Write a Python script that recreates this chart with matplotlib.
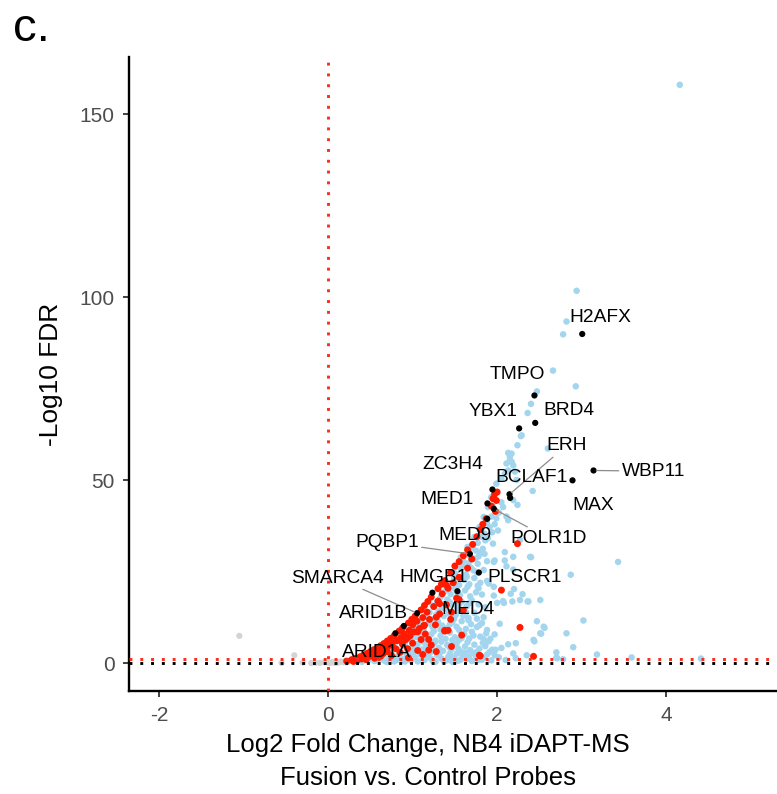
import matplotlib
matplotlib.use("Agg")
import matplotlib.pyplot as plt

plt.rcParams['font.family'] = ['Liberation Sans', 'DejaVu Sans']

# ---------------- data ----------------
gray_pts = [(-1.05, 7.5), (-0.40, 2.2), (-0.55, 0.1), (-0.30, 0.2), (-0.15, 0.15),
            (-0.05, 0.3), (0.0, 0.2), (0.05, 0.35), (0.10, 0.3), (0.15, 0.5),
            (0.20, 0.6), (0.25, 0.5), (0.12, 0.2), (0.08, 0.1), (0.18, 0.3),
            (-0.10, 0.1), (0.28, 0.7), (0.02, 0.05), (-0.20, 0.05), (0.22, 0.25)]

blue_pts = [
    (4.16, 158.1), (2.94, 101.8), (2.82, 93.4), (2.78, 89.9), (2.66, 80.0), (2.93, 75.7),
    (2.47, 74.3), (2.40, 70.9), (2.36, 68.4), (2.29, 62.3), (2.60, 58.7), (2.28, 62.1),
    (2.24, 59.6), (2.17, 57.3), (2.15, 55.5), (2.11, 54.6), (2.19, 54.1), (2.13, 52.7),
    (2.09, 51.8), (2.05, 50.5), (1.99, 49.1), (2.42, 47.1), (1.93, 45.4), (1.89, 42.7),
    (1.84, 40.0), (1.79, 37.2), (1.73, 34.5), (1.65, 31.8), (1.57, 29.0), (1.50, 26.3),
    (2.07, 42.7), (2.13, 39.1), (2.01, 36.3), (1.95, 32.7), (1.85, 29.9), (2.09, 30.4),
    (1.77, 27.2), (2.40, 29.0), (1.97, 28.1), (3.43, 27.7), (2.39, 29.1), (2.87, 24.2),
    (2.30, 18.9), (2.36, 16.9), (2.47, 11.5), (3.02, 11.7), (2.56, 9.7), (2.52, 8.1),
    (2.44, 6.0), (2.90, 4.4), (2.70, 3.0), (3.18, 2.4), (2.35, 2.2), (2.70, 1.5),
    (2.78, 1.1), (3.59, 1.6), (4.41, 1.3),
    (1.96, 27.7), (2.09, 28.1), (2.11, 26.5), (2.19, 25.6), (1.88, 22.5), (1.90, 21.8),
    (2.20, 20.3), (2.16, 19.0), (1.96, 18.5), (2.00, 16.5), (2.07, 17.0), (2.08, 16.5),
    (2.18, 16.9), (2.37, 16.9), (2.03, 10.8), (2.51, 8.2), (1.84, 6.6), (1.92, 6.7),
    (1.90, 6.0), (2.22, 5.5), (2.13, 5.2), (1.94, 3.7), (1.98, 3.7), (1.97, 2.2), (2.71, 1.4),
    (2.13, 57.5), (2.15, 56.4), (2.17, 55.1), (2.21, 52.4), (2.23, 50.1), (2.19, 44.6),
    (2.24, 43.3), (2.11, 40.1), (2.27, 33.7), (2.19, 29.1), (1.96, 20.9), (2.27, 17.3),
    (2.51, 17.3), (2.55, 10.0), (2.82, 8.2), (2.43, 6.4), (1.88, 9.1), (2.19, 2.7), (1.96, 3.6),
    (0.40, 0.4), (0.48, 0.9), (0.55, 0.6), (0.60, 1.3), (0.66, 0.8), (0.72, 1.6), (0.78, 0.5),
    (0.82, 1.9), (0.88, 1.1), (0.93, 2.3), (0.98, 0.7), (1.03, 1.6), (1.09, 2.5), (1.14, 0.9),
    (1.19, 1.8), (1.24, 0.6), (1.29, 2.2), (1.34, 1.3), (1.40, 0.8), (1.44, 2.6), (1.49, 1.5),
    (1.54, 0.7), (1.59, 2.1), (1.64, 1.2), (1.70, 0.6), (1.75, 1.8), (1.82, 1.0), (1.88, 2.4),
    (1.93, 0.8), (2.02, 1.6), (2.10, 0.9), (2.22, 1.4),
    (0.70, 3.3), (0.77, 4.1), (0.84, 3.5), (0.89, 4.8), (0.95, 3.1), (1.00, 4.4), (1.06, 5.3),
    (1.11, 3.8), (1.16, 4.9), (1.21, 3.0), (1.26, 5.6), (1.31, 4.2), (1.36, 3.4), (1.41, 5.0),
    (1.46, 3.9), (1.52, 5.4), (1.57, 3.2), (1.62, 4.6), (1.68, 3.6), (1.73, 5.1), (1.79, 4.0),
    (1.86, 4.7), (2.05, 4.2),
    (0.86, 6.6), (0.93, 7.8), (0.99, 6.3), (1.04, 7.2), (1.09, 8.3), (1.16, 6.9), (1.22, 7.9),
    (1.27, 6.2), (1.33, 7.5), (1.39, 6.7), (1.44, 8.4), (1.50, 7.1), (1.55, 6.4), (1.61, 8.0),
    (1.67, 6.8), (1.72, 7.6), (1.80, 7.3), (1.97, 7.9),
    (1.02, 9.8), (1.07, 10.9), (1.13, 9.3), (1.19, 11.1), (1.24, 9.9), (1.30, 11.4),
    (1.35, 10.3), (1.41, 9.6), (1.47, 11.2), (1.52, 10.0), (1.58, 11.5), (1.63, 9.4),
    (1.69, 10.7), (1.76, 9.9), (1.82, 11.0),
    (1.14, 12.8), (1.20, 13.9), (1.26, 12.3), (1.31, 14.2), (1.37, 12.9), (1.43, 13.6),
    (1.49, 12.1), (1.54, 14.4), (1.60, 13.0), (1.66, 12.4), (1.73, 13.8), (1.84, 12.6),
    (1.24, 15.8), (1.29, 16.9), (1.35, 15.2), (1.41, 17.4), (1.46, 16.0), (1.52, 15.4),
    (1.58, 16.8), (1.64, 15.6), (1.70, 17.2), (1.78, 16.1), (1.86, 15.3),
    (1.34, 18.4), (1.39, 19.8), (1.45, 18.9), (1.50, 20.4), (1.56, 18.6), (1.62, 19.9),
    (1.68, 18.3), (1.75, 19.4), (1.82, 18.8),
    (1.44, 21.9), (1.49, 23.1), (1.55, 21.4), (1.61, 22.8), (1.67, 21.6), (1.73, 23.3), (1.80, 22.0),
    (1.50, 24.6), (1.57, 25.8), (1.63, 24.3), (1.69, 26.1), (1.76, 24.9), (1.84, 25.5),
    (1.60, 28.0), (1.68, 29.3), (1.74, 28.6), (1.80, 30.2), (1.88, 27.9),
    (1.70, 31.5), (1.77, 32.9), (1.83, 31.3), (1.89, 34.2), (1.94, 35.8), (1.86, 33.6),
    (1.82, 36.9), (1.88, 38.4), (1.93, 40.1), (1.97, 38.0), (2.02, 41.2), (1.95, 42.8), (2.05, 44.0),
    (0.52, 1.5), (0.63, 2.3), (0.69, 0.4), (0.75, 2.8), (0.81, 0.9), (0.86, 2.9), (0.91, 0.5),
    (0.96, 1.9), (1.01, 2.9), (1.06, 0.5), (1.12, 1.4), (1.17, 2.9), (1.22, 1.2), (1.27, 0.4),
    (1.32, 2.8), (1.37, 0.6), (1.42, 1.7), (1.47, 0.4), (1.52, 2.6), (1.57, 1.0), (1.62, 2.9),
    (1.67, 1.9), (1.72, 2.8), (1.78, 0.9), (1.85, 1.7), (1.91, 3.1), (0.80, 5.8), (0.91, 5.6),
    (1.03, 3.4), (1.13, 5.8), (1.23, 4.4), (1.34, 5.9), (1.44, 4.3), (1.54, 4.0), (1.65, 5.8),
    (1.76, 3.1), (1.83, 5.6), (0.97, 8.6), (1.12, 7.6), (1.25, 8.8), (1.36, 8.9), (1.47, 6.3),
    (1.58, 6.9), (1.70, 8.6), (1.87, 8.2), (1.10, 11.8), (1.22, 10.6), (1.33, 9.2), (1.44, 10.6),
    (1.55, 9.1), (1.66, 11.8), (1.79, 10.4), (1.28, 13.3), (1.40, 14.8), (1.51, 13.2),
    (1.63, 14.0), (1.76, 12.2), (1.32, 17.6), (1.44, 16.7), (1.55, 16.2), (1.67, 16.4),
    (1.42, 20.9), (1.53, 19.3), (1.65, 20.9), (1.78, 20.5), (1.52, 22.5), (1.64, 23.7),
    (1.77, 21.2), (1.59, 26.7), (1.72, 25.4), (1.66, 27.3), (1.78, 29.2), (1.75, 30.8),
    (1.81, 34.6), (1.85, 35.4), (1.91, 37.2), (1.99, 39.6),
]

red_pts = [
    (0.22, 0.6), (0.28, 1.0), (0.33, 1.4), (0.38, 1.8), (0.42, 2.3), (0.46, 2.7), (0.50, 3.2),
    (0.54, 3.7), (0.58, 4.2), (0.62, 4.8), (0.66, 5.4), (0.70, 6.1), (0.74, 6.8), (0.78, 7.5),
    (0.84, 8.8), (0.88, 9.6), (0.95, 11.0), (0.99, 12.0), (1.03, 12.9), (1.10, 14.6),
    (1.14, 15.8), (1.18, 16.9), (1.22, 18.1), (1.30, 20.4), (1.34, 21.6), (1.38, 22.6),
    (1.45, 24.8), (1.50, 26.6), (1.55, 27.8), (1.60, 29.4), (1.65, 31.0), (1.71, 32.5),
    (1.76, 34.6), (1.80, 36.5), (1.83, 38.0), (1.87, 39.5), (1.93, 43.0), (1.95, 45.0),
    (1.97, 46.2), (2.00, 46.8), (1.99, 44.5), (1.98, 41.5),
    (0.30, 0.5), (0.35, 0.9), (0.40, 1.2), (0.45, 1.0), (0.48, 1.8), (0.52, 2.2), (0.55, 1.4),
    (0.58, 2.8), (0.60, 3.4), (0.62, 1.9), (0.65, 2.6), (0.67, 4.0), (0.70, 3.2), (0.72, 4.8),
    (0.75, 2.1), (0.76, 5.5), (0.80, 4.0), (0.82, 6.2), (0.85, 3.0), (0.86, 7.0), (0.88, 5.2),
    (0.90, 8.0), (0.92, 6.5), (0.94, 4.0), (0.96, 9.0), (0.97, 7.5), (1.00, 5.5), (1.00, 10.5),
    (1.02, 8.6), (1.05, 11.5), (1.06, 3.5), (1.08, 9.5), (1.10, 6.5), (1.12, 12.5), (1.13, 10.2),
    (1.15, 8.0), (1.17, 14.0), (1.20, 12.0), (1.22, 5.0), (1.25, 15.5), (1.27, 10.5),
    (1.30, 17.0), (1.32, 13.5), (1.35, 19.0), (1.38, 8.8), (1.40, 16.0), (1.42, 20.5),
    (1.45, 12.0), (1.48, 22.0), (1.52, 17.8), (1.55, 23.5), (1.58, 7.7), (1.60, 14.5),
    (1.65, 26.0), (1.70, 28.5), (1.80, 2.0), (2.05, 20.0), (2.24, 32.7), (2.27, 9.8),
    (2.43, 1.9), (1.38, 9.0), (1.12, 2.4), (0.95, 1.5), (1.28, 3.2), (1.46, 4.6),
    (1.19, 6.5), (1.42, 9.0), (1.14, 10.4), (1.28, 12.6), (1.46, 14.0), (1.55, 17.4),
    (1.79, 2.2), (1.19, 3.6), (1.40, 21.3), (1.32, 16.3), (0.94, 7.0), (1.06, 8.6),
]

genes = ["H2AFX", "TMPO", "BRD4", "YBX1", "WBP11", "MAX", "ERH", "BCLAF1", "ZC3H4",
         "MED1", "POLR1D", "MED9", "PQBP1", "PLSCR1", "HMGB1", "MED4", "SMARCA4",
         "ARID1B", "ARID1A"]
gene_x = [3.006, 2.441, 2.450, 2.260, 3.140, 2.891, 2.146, 2.154, 1.944,
          1.885, 1.961, 1.882, 1.677, 1.783, 1.234, 1.530, 1.053, 0.896, 0.796]
gene_y = [90.0, 73.2, 65.7, 64.2, 52.7, 50.0, 46.2, 45.2, 47.5,
          43.7, 42.2, 39.5, 29.9, 24.8, 19.3, 19.7, 13.7, 10.2, 8.2]

x_ticks = [-2, 0, 2, 4]
y_ticks = [0, 50, 100, 150]
fdr_cut = 1.3

# ---------------- layout (label placement) ----------------
label_pos = {
    "H2AFX": (3.215, 94.5), "TMPO": (2.243, 78.9), "YBX1": (1.947, 68.9),
    "BRD4": (2.852, 69.2), "ERH": (2.817, 59.4), "ZC3H4": (1.473, 54.2),
    "BCLAF1": (2.408, 50.8), "WBP11": (3.846, 52.5), "MAX": (3.136, 43.0),
    "MED1": (1.408, 44.9), "POLR1D": (2.604, 34.2), "MED9": (1.615, 34.8),
    "PQBP1": (0.698, 33.0), "PLSCR1": (2.320, 23.5), "HMGB1": (1.249, 23.5),
    "SMARCA4": (0.107, 23.3), "MED4": (1.651, 14.8), "ARID1B": (0.533, 13.7),
    "ARID1A": (0.574, 2.95),
}
with_segment = {"ERH", "WBP11", "POLR1D", "PQBP1", "SMARCA4"}

W, H = 777, 794
fig = plt.figure(figsize=(W / 100, H / 100), dpi=100)
ax = fig.add_axes([129 / W, 1 - 691 / H, (777 - 129) / W, (691 - 57) / H])

gx, gy = zip(*gray_pts)
bx, by = zip(*blue_pts)
rx, ry = zip(*red_pts)
ax.scatter(gx, gy, s=20, color='#d4d4d4', edgecolors='none', zorder=2)
ax.scatter(bx, by, s=22, color='#a3d6ee', edgecolors='none', zorder=3)
ax.scatter(rx, ry, s=25, color='#ff1a00', edgecolors='none', zorder=4)
ax.scatter(gene_x, gene_y, s=20, color='black', edgecolors='none', zorder=6)

dot = (0, (1, 2.7))
ax.axvline(0, color='#ff2a1a', lw=2.1, linestyle=dot, zorder=5)
ax.axhline(fdr_cut, color='#ff2a1a', lw=2.1, linestyle=dot, zorder=5)
ax.axhline(0, color='black', lw=2.1, linestyle=dot, zorder=5)

for name, gxx, gyy in zip(genes, gene_x, gene_y):
    tx, ty = label_pos[name]
    if name in with_segment:
        ax.annotate(name, xy=(gxx, gyy), xytext=(tx, ty), textcoords='data',
                    ha='center', va='center', fontsize=13.8, color='black', zorder=7,
                    arrowprops=dict(arrowstyle='-', color='#8c8c8c', lw=0.9,
                                    shrinkA=0, shrinkB=2))
    else:
        ax.text(tx, ty, name, ha='center', va='center', fontsize=13.8,
                color='black', zorder=7)

ax.set_xlim(-2.355, 5.31)
ax.set_ylim(-7.57, 165.7)
ax.set_xticks(x_ticks)
ax.set_xticklabels([str(t) for t in x_ticks])
ax.set_yticks(y_ticks)
ax.set_yticklabels([str(t) for t in y_ticks])

for side in ['top', 'right']:
    ax.spines[side].set_visible(False)
for side in ['left', 'bottom']:
    ax.spines[side].set_linewidth(1.7)
    ax.spines[side].set_color('black')
ax.tick_params(axis='both', length=4.5, width=1.3, color='#333333',
               labelsize=15, labelcolor='#4d4d4d', pad=6)

# x-axis title (two lines, centred as in the reference)
fig.text(427.5 / W, 1 - 745 / H, "Log2 Fold Change, NB4 iDAPT-MS",
         fontsize=18.5, ha='center', va='center', color='black')
fig.text(427.5 / W, 1 - 778 / H, "Fusion vs. Control Probes",
         fontsize=18.5, ha='center', va='center', color='black')
ax.set_ylabel("-Log10 FDR", fontsize=19, color='black', labelpad=12)

fig.text(13 / W, 1 - 41 / H, "c.", fontsize=34, va='baseline', ha='left')

fig.savefig("out.png", dpi=100)
